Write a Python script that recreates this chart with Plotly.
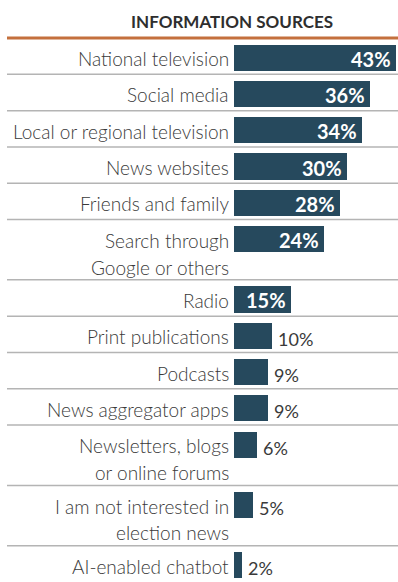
import plotly.graph_objects as go

# Survey: where people get election news (share of respondents, %)
labels = [
    "National television",
    "Social media",
    "Local or regional television",
    "News websites",
    "Friends and family",
    "Search through<br>Google or others",
    "Radio",
    "Print publications",
    "Podcasts",
    "News aggregator apps",
    "Newsletters, blogs<br>or online forums",
    "I am not interested in<br>election news",
    "AI-enabled chatbot",
]
values = [43, 36, 34, 30, 28, 24, 15, 10, 9, 9, 6, 5, 2]
title_text = "INFORMATION SOURCES"

BAR_COLOR = "#26495d"
TEXT_COLOR = "#3a3a3a"
RULE_COLOR = "#b4b4b4"
ACCENT = "#c4703d"
FONT = "Lato, Roboto, sans-serif"

# Row geometry in row units: a two-line label makes its row taller
EXTRA_LINE = 0.66
LINE_STEP = 0.74
BAR_OFFSET = 0.54
BAR_WIDTH = 0.72

tops, heights = [], []
y = 0.0
for lab in labels:
    n_lines = lab.count("<br>") + 1
    h = 1.0 + EXTRA_LINE * (n_lines - 1)
    tops.append(y)
    heights.append(h)
    y += h
total = y
centers = [t + BAR_OFFSET for t in tops]

fig = go.Figure(
    go.Bar(
        x=values,
        y=centers,
        orientation="h",
        width=BAR_WIDTH,
        marker=dict(color=BAR_COLOR, line=dict(width=0)),
        hoverinfo="skip",
    )
)

annotations = []
for lab, c in zip(labels, centers):
    for i, line in enumerate(lab.split("<br>")):
        annotations.append(dict(
            x=0, y=c + i * LINE_STEP, xref="x", yref="y",
            text=line, showarrow=False, xanchor="right", yanchor="middle",
            xshift=-3, yshift=-1,
            font=dict(family=FONT, size=19, color=TEXT_COLOR, weight=300),
        ))

for v, c in zip(values, centers):
    if v >= 15:
        annotations.append(dict(
            x=v, y=c, xref="x", yref="y", text=f"<b>{v}%</b>",
            showarrow=False, xanchor="right", yanchor="middle", xshift=-3, yshift=-1,
            font=dict(family=FONT, size=20, color="white"),
        ))
    else:
        annotations.append(dict(
            x=v, y=c, xref="x", yref="y", text=f"{v}%",
            showarrow=False, xanchor="left", yanchor="middle", xshift=4, yshift=-3,
            font=dict(family=FONT, size=18, color=TEXT_COLOR),
        ))

# Title placed in pixel terms relative to the plot area (left 234, width 164, top 38, height 544)
annotations.append(dict(
    x=(232 - 234) / 164, y=1 + (38 - 21) / 544, xref="paper", yref="paper",
    text=f"<b>{title_text}</b>",
    showarrow=False, xanchor="center", yanchor="middle",
    font=dict(family=FONT, size=17, color="#2e2e2e"),
))

shapes = [dict(
    type="line", xref="paper", yref="paper",
    x0=(7 - 234) / 164, x1=1, y0=1, y1=1,
    line=dict(color=ACCENT, width=3),
)]
for t, h in zip(tops[:-1], heights[:-1]):
    shapes.append(dict(
        type="line", xref="paper", yref="y",
        x0=(7 - 234) / 164, x1=1, y0=t + h, y1=t + h,
        line=dict(color=RULE_COLOR, width=1.5),
    ))

fig.update_layout(
    width=398, height=582,
    margin=dict(l=234, r=0, t=38, b=0),
    paper_bgcolor="white", plot_bgcolor="white",
    showlegend=False,
    bargap=0,
    xaxis=dict(range=[0, 43.5], visible=False, fixedrange=True),
    yaxis=dict(range=[total, 0], visible=False, fixedrange=True),
    annotations=annotations,
    shapes=shapes,
)

fig.write_html("out.html", config={"displayModeBar": False})
